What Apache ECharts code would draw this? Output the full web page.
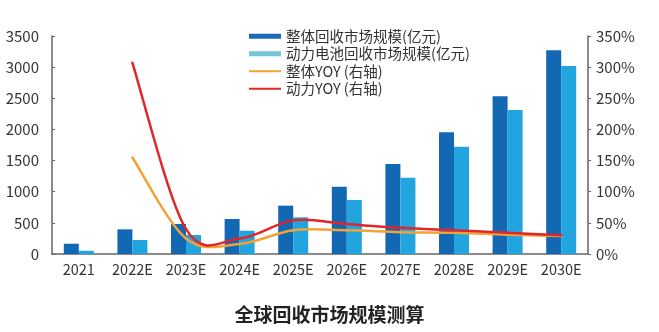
<!DOCTYPE html>
<html><head><meta charset="utf-8">
<script src="https://cdn.jsdelivr.net/npm/echarts@6/dist/echarts.min.js"></script>
<style>html,body{margin:0;padding:0;background:#fff}#c{width:659px;height:332px}</style>
</head><body><div id="c"></div>
<script>
const categories = ['2021','2022E','2023E','2024E','2025E','2026E','2027E','2028E','2029E','2030E'];
const totalMarket = [165,396,482,562,776,1078,1445,1954,2532,3270];
const batteryMarket = [52,225,305,374,589,867,1225,1723,2312,3019];
const totalYoy = [null,155,25,16,38,38,35,34,31,29];
const batteryYoy = [null,307,40,25,54,48,42,38,34,30];
const leftTicks = {min:0,max:3500,interval:500};
const rightTicks = {min:0,max:350,interval:50};

const font = '"Noto Sans CJK SC","Noto Sans",sans-serif';
const lineIcon = 'path://M0,0h0.01v0.01h-0.01z M0,1.5h32v2h-32z M0,4.99h0.01v0.01h-0.01z';

// Excel-like smoothed line (Catmull-Rom style Bezier) drawn via axis coordinates
function smoothSeries(name, values, color) {
  return {
    name: name, type: 'custom', yAxisIndex: 1, z: 5,
    data: values.map((v, i) => [i, v]),
    itemStyle: {color: color},
    renderItem: function (params, api) {
      const i = params.dataIndex;
      const n = values.length;
      if (values[i] == null || i + 1 >= n || values[i + 1] == null) return null;
      const P = k => {
        let kk = Math.max(0, Math.min(n - 1, k));
        if (values[kk] == null) kk = k < i ? i : i + 1;
        return api.coord([kk, values[kk]]);
      };
      const p0 = P(i - 1), p1 = P(i), p2 = P(i + 1), p3 = P(i + 2);
      return {
        type: 'bezierCurve',
        shape: {
          x1: p1[0], y1: p1[1], x2: p2[0], y2: p2[1],
          cpx1: p1[0] + (p2[0] - p0[0]) / 6, cpy1: p1[1] + (p2[1] - p0[1]) / 6,
          cpx2: p2[0] - (p3[0] - p1[0]) / 6, cpy2: p2[1] - (p3[1] - p1[1]) / 6
        },
        style: {fill: 'none', stroke: color, lineWidth: 2.5, lineCap: 'round'},
        silent: true
      };
    }
  };
}

const chart = echarts.init(document.getElementById('c'));
chart.setOption({
  animation:false,
  textStyle:{fontFamily:font},
  title:{text:'全球回收市场规模测算',left:'center',top:300,textStyle:{fontSize:19,fontWeight:'bold',color:'#222',fontFamily:font}},
  legend:{orient:'vertical',left:244,top:24,itemWidth:32,itemHeight:5,itemGap:3,
    textStyle:{fontSize:14.5,color:'#333',fontFamily:font},
    data:[
      {name:'整体回收市场规模(亿元)',icon:'rect',itemStyle:{color:'#1A6AB5'}},
      {name:'动力电池回收市场规模(亿元)',icon:'rect',itemStyle:{color:'#72C6D8'}},
      {name:'整体YOY (右轴)',icon:lineIcon,itemStyle:{color:'#F4A235'}},
      {name:'动力YOY (右轴)',icon:lineIcon,itemStyle:{color:'#E1262B'}}
    ]},
  grid:{left:52,right:71,top:36,bottom:78},
  xAxis:{type:'category',data:categories,
    axisLine:{lineStyle:{color:'#666',width:1.5}},
    axisTick:{inside:true,length:5,lineStyle:{color:'#333'}},
    axisLabel:{fontSize:14.5,color:'#333',margin:8,interval:0}},
  yAxis:[
    {type:'value',min:leftTicks.min,max:leftTicks.max,interval:leftTicks.interval,
      splitLine:{show:false},axisLine:{show:true,lineStyle:{color:'#666',width:1.5}},
      axisTick:{show:true,inside:true,length:3,lineStyle:{color:'#666'}},
      axisLabel:{fontSize:15,color:'#333',margin:13,formatter:v=>String(v)}},
    {type:'value',min:rightTicks.min,max:rightTicks.max,interval:rightTicks.interval,
      splitLine:{show:false},axisLine:{show:true,lineStyle:{color:'#666',width:1.5}},
      axisTick:{show:true,length:3,lineStyle:{color:'#666'}},
      axisLabel:{fontSize:15,color:'#333',margin:8,formatter:'{value}%'}}
  ],
  series:[
    {name:'整体回收市场规模(亿元)',type:'bar',data:totalMarket,barWidth:15,barGap:'0%',itemStyle:{color:'#1368B3'}},
    {name:'动力电池回收市场规模(亿元)',type:'bar',data:batteryMarket,barWidth:15,itemStyle:{color:'#22A4DF'}},
    smoothSeries('整体YOY (右轴)', totalYoy, '#F4A235'),
    smoothSeries('动力YOY (右轴)', batteryYoy, '#E1262B')
  ]
});
</script></body></html>
